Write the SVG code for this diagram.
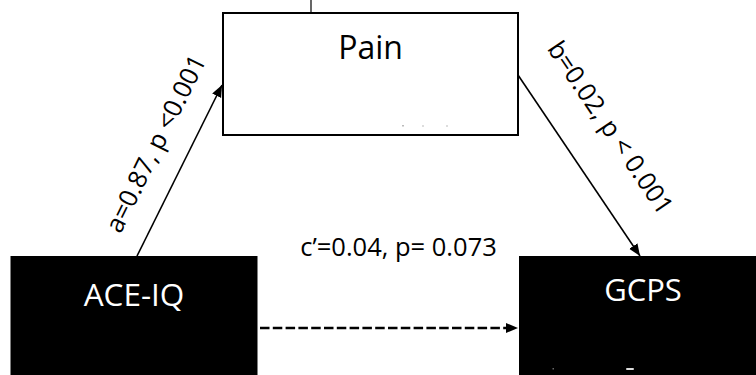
<svg xmlns="http://www.w3.org/2000/svg" width="756" height="375" viewBox="0 0 756 375">
  <style>
    .lbl { font-family: "Open Sans", "Noto Sans", "Liberation Sans", sans-serif; }
    .node-w { fill: #ffffff; stroke: #000000; stroke-width: 2; }
    .node-b { fill: #000000; stroke: #ffffff; stroke-width: 1; }
    .edge { fill: none; stroke: #000000; stroke-width: 1.6; }
    .dash { fill: none; stroke: #000000; stroke-width: 2.7; stroke-dasharray: 9.5 3.3; }
  </style>
  <defs>
    <marker id="head" markerUnits="userSpaceOnUse" markerWidth="14" markerHeight="12" refX="12" refY="5" orient="auto">
      <path d="M0,0 L12,5 L0,10 Z" fill="#000000"/>
    </marker>
  </defs>

  <rect width="756" height="375" fill="#ffffff"/>

  <!-- short tick above the mediator box -->
  <line x1="311" y1="0" x2="311" y2="13" stroke="#000000" stroke-width="1.2"/>

  <g id="connectors">
    <line class="edge" x1="137" y1="256" x2="222" y2="85" marker-end="url(#head)"/>
    <line class="edge" x1="518" y1="75" x2="640" y2="256" marker-end="url(#head)"/>
    <line class="dash" x1="260" y1="328" x2="508" y2="328"/>
    <path d="M506,323 L518,328 L506,333 Z" fill="#000000"/>
  </g>

  <g id="pain">
    <rect class="node-w" x="223" y="13" width="295" height="122"/>
    <text class="lbl" x="370.5" y="59" font-size="32" text-anchor="middle" fill="#000000">Pain</text>
    <g fill="#bbbbbb">
      <rect x="402" y="125" width="2" height="1.5"/>
      <rect x="422" y="125.5" width="2" height="1"/>
      <rect x="446" y="125.5" width="2" height="1"/>
    </g>
  </g>

  <g id="ace-iq">
    <rect x="10.5" y="256" width="247" height="125" fill="#000000"/>
    <text class="lbl" x="134" y="306" font-size="31.5" text-anchor="middle" fill="#ffffff">ACE-IQ</text>
  </g>

  <g id="gcps">
    <rect x="519" y="256" width="245" height="125" fill="#000000"/>
    <text class="lbl" x="643" y="301" font-size="31" text-anchor="middle" fill="#ffffff">GCPS</text>
    <rect x="552.5" y="368" width="1.5" height="1.5" fill="#666666"/>
    <rect x="626" y="368" width="8" height="2" rx="1" fill="#dddddd"/>
  </g>

  <g id="labels">
    <text class="lbl" x="398.5" y="256" font-size="25.5" text-anchor="middle" fill="#000000">c’=0.04, p= 0.073</text>
    <text class="lbl" transform="translate(155.5,143.5) rotate(-63.6)" x="0" y="9" font-size="25.5" text-anchor="middle" fill="#000000">a=0.87, p &lt;0.001</text>
    <text class="lbl" transform="translate(610.5,127.5) rotate(56)" x="0" y="9" font-size="25.5" text-anchor="middle" fill="#000000">b=0.02, p &lt; 0.001</text>
  </g>
</svg>
